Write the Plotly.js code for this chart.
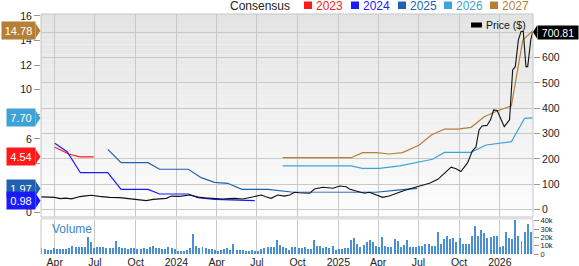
<!DOCTYPE html>
<html><head><meta charset="utf-8">
<script src="https://cdn.plot.ly/plotly-3.0.1.min.js"></script>
<style>html,body{margin:0;padding:0;background:#fff;}#chart{width:579px;height:266px;}</style>
</head><body><div id="chart"></div>
<script>
// ---------- data ----------
const eps2023Dates = ['2023-04-01','2023-05-04','2023-05-28','2023-06-28'];
const eps2023 = [5.32,4.75,4.54,4.54];
const eps2024Dates = ['2023-04-01','2023-04-29','2023-05-29','2023-07-30','2023-08-29','2023-10-29','2023-11-24','2024-01-28','2024-02-19','2024-03-27','2024-06-26'];
const eps2024 = [5.64,4.96,3.25,3.25,1.90,1.90,1.52,1.52,1.22,1.09,0.98];
const eps2025Dates = ['2023-07-30','2023-08-29','2023-10-29','2023-11-24','2024-01-28','2024-02-26','2024-03-27','2024-04-26','2024-05-28','2024-07-26','2024-09-17','2025-03-27','2025-05-20','2025-06-28'];
const eps2025 = [5.15,4.07,4.07,3.53,3.53,2.85,2.47,2.39,1.90,1.90,1.68,1.66,1.85,1.97];
const eps2026Dates = ['2024-08-28','2025-01-30','2025-02-24','2025-04-04','2025-05-20','2025-07-03','2025-08-02','2025-08-29','2025-10-28','2025-12-01','2025-12-27','2026-01-27','2026-02-26','2026-03-16'];
const eps2026 = [3.80,3.80,3.61,3.61,3.80,4.15,4.34,4.90,4.91,5.50,5.64,5.77,7.67,7.70];
const eps2027Dates = ['2024-08-28','2025-01-30','2025-02-25','2025-03-28','2025-04-26','2025-05-26','2025-07-03','2025-07-30','2025-08-29','2025-09-28','2025-10-28','2025-11-27','2025-12-27','2026-01-27','2026-02-22','2026-03-16'];
const eps2027 = [4.47,4.47,4.88,4.88,4.77,4.88,5.50,6.32,6.80,6.80,6.94,7.80,8.29,8.67,14.04,14.78];

const priceDates = ['2023-03-01','2023-03-21','2023-04-01','2023-04-13','2023-04-26','2023-05-09','2023-05-28','2023-06-10','2023-06-23','2023-07-11','2023-08-03','2023-08-26','2023-09-08','2023-09-25','2023-10-10','2023-10-25','2023-11-09','2023-11-24','2023-12-09','2023-12-21','2024-01-08','2024-01-31','2024-02-19','2024-03-05','2024-03-20','2024-04-01','2024-04-15','2024-04-30','2024-05-11','2024-05-30','2024-06-18','2024-07-11','2024-07-21','2024-08-02','2024-08-17','2024-09-01','2024-09-13','2024-09-24','2024-10-05','2024-10-28','2024-11-08','2024-11-27','2024-12-20','2025-01-04','2025-01-19','2025-01-26','2025-02-10','2025-03-01','2025-03-12','2025-03-31','2025-04-11','2025-04-26','2025-05-11','2025-05-30','2025-06-18','2025-07-03','2025-07-26','2025-08-14','2025-09-02','2025-09-13','2025-09-24','2025-10-05','2025-10-20','2025-10-31','2025-11-08','2025-11-15','2025-11-22','2025-12-03','2025-12-11','2025-12-18','2025-12-26','2026-01-11','2026-01-23','2026-01-30','2026-02-05','2026-02-12','2026-02-18','2026-02-23','2026-03-01','2026-03-05','2026-03-12','2026-03-16'];
const price = [50,49,48,43,45,42,51,54,56,52,48,47,45,42,38,35,40,42,44,53,52,57,49,46,44,45,41.5,43,44,41.5,49,57,50,44,57,53,57,68,66,64,81,88,84,93,90,81,73,64,68,57,48,53,64,75,85,93,104,119,150,167,161,150,184,232,246,314,330,332,354,393,391,327,354,551,564,670,703,703,564,564,670,700.81];

const volumeStart = '2023-03-02';   // first weekly bar
const volumeK = [6.8,6,5,4.8,6.8,5.6,5.6,6,6.4,6.8, 9.6,8,8.8,8,8.8,20,14.8,6.8,8,8.8, 8,7.2,7.2,6.8,16,8,6.8,7.2,5.6,6.8, 7.2,6.4,6.4,6.8,6.4,8.8,9.6,7,7.2,6.4, 6,8,7.2,6.4,4,4,4,4.8,6.8,23.6, 9.6,6.8,
 8,7.2,5.6,6,4.8,4,5.2,5.6,7.6,4.4, 11.6,5.2,4.4,4.4,3.6,4,4.4,3.6,4,5.6, 6.8,8,8.4,8.4,16.4,10.8,8.8,6.8,
 4.8,8,8.8,6.8,6.8,8,6.4,6,16.8,10, 9.6,6.8,8,7.2,9.6,4.8,5.6,6.4,7.6,7.2, 16.8,18.8,12,8,10.8,14,16.8,14.8,9.2,8.4, 20.8,9.2,8.8,8.8,18,15.6,8,10.4,17.2,8.4, 8.4,8,9.6,9.6,11.6,11.6,9.6,9.2,26.8,12.4, 17.6,22,18,18.8,14.4,18.8,12.4,12,12.4,21.6, 33.6,22,29.2,25.2,19.6,20.4,22,21.2,8.4,9.6, 26,19.6,17.6,40.8,22,16,26,36.5,27];

const xTickVals = ['2023-04-01','2023-07-01','2023-10-01','2024-01-01','2024-04-01','2024-07-01','2024-10-01','2025-01-01','2025-04-01','2025-07-01','2025-10-01','2026-01-01'];
const xTickText = ['Apr','Jul','Oct','2024','Apr','Jul','Oct','2025','Apr','Jul','Oct','2026'];
const epsTickVals = [0,2,4,6,8,10,12,14,16];
const epsTickText = ['0','','','6','','10','12','14','16'];   // 2,4,8 hidden under value tags
const priceTickVals = [0,100,200,300,400,500,600,700];
const priceTickText = ['0','100','200','300','400','500','600',''];
const volTickVals = [0,10000,20000,30000,40000];
const volTickText = ['0','10k','20k','30k','40k'];

const seriesNames = ['2023','2024','2025','2026','2027'];
const seriesColors = ['#ff1a1a','#1a1aff','#2162b0','#3ea2d6','#b57f36'];

// ---------- geometry helpers (layout only) ----------
const W=579,H=266,L=41,R=46,T=14,B=12;
const pw=W-L-R, ph=H-T-B;
const px = x => (x-L)/pw;
const py = y => (H-B-y)/ph;
const mainBottom = 217, volTop = 219.5;
const epsRange = [-0.35, 16.15];
const priceRange = [-29.6, 771.9];
const volRange = [0, 41450];
const epsPerPx = (epsRange[1]-epsRange[0])/(mainBottom-T);
const pricePerPx = (priceRange[1]-priceRange[0])/(mainBottom-T);

const volDates = volumeK.map((v,i)=>{const d=new Date(volumeStart+'T00:00:00Z'); d.setUTCDate(d.getUTCDate()+7*i); return d.toISOString().slice(0,10);});

const epsSets = [[eps2023Dates,eps2023],[eps2024Dates,eps2024],[eps2025Dates,eps2025],[eps2026Dates,eps2026],[eps2027Dates,eps2027]];

const traces = [];
traces.push({type:'bar', x:volDates, y:volumeK.map(v=>v*1000), xaxis:'x', yaxis:'y3', marker:{color:'#4a8fd3', line:{width:0}}, width:4.5*86400000, hoverinfo:'skip'});
epsSets.forEach((s,i)=>traces.push({type:'scatter', mode:'lines', x:s[0], y:s[1], xaxis:'x', yaxis:'y', line:{color:seriesColors[i], width:1.2}, hoverinfo:'skip'}));
traces.push({type:'scatter', mode:'lines', x:priceDates, y:price, xaxis:'x', yaxis:'y2', line:{color:'#111', width:1.1}, hoverinfo:'skip'});

const shapes = [];
// gradient background of main panel
const N=40;
for(let k=0;k<N;k++){
  const y0 = T + (mainBottom-T)*k/N, y1 = T + (mainBottom-T)*(k+1)/N;
  const c = Math.round(227 + (253-227)*(k+0.5)/N);
  shapes.push({type:'rect', xref:'paper', yref:'paper', x0:0, x1:1, y0:py(y1), y1:py(y0), fillcolor:`rgb(${c},${c},${c})`, line:{width:0}, layer:'below'});
}
// frame
shapes.push({type:'rect', xref:'paper', yref:'paper', x0:0, x1:1, y0:py(mainBottom), y1:1, line:{color:'#c6c6c6', width:1}, fillcolor:'rgba(0,0,0,0)'});
shapes.push({type:'rect', xref:'paper', yref:'paper', x0:0, x1:1, y0:py(volTop), y1:py(mainBottom), line:{width:0}, fillcolor:'#dedede'});
shapes.push({type:'line', xref:'paper', yref:'paper', x0:0, x1:0, y0:0, y1:py(volTop), line:{color:'#c6c6c6', width:1}});
shapes.push({type:'line', xref:'paper', yref:'paper', x0:1, x1:1, y0:0, y1:py(volTop), line:{color:'#c6c6c6', width:1}});

// legend squares (top)
const legSqX = [304,351,398,444,490];
seriesNames.forEach((n,i)=>{
  shapes.push({type:'rect', xref:'paper', yref:'paper', x0:px(legSqX[i]), x1:px(legSqX[i]+8), y0:py(9), y1:py(1.5), fillcolor:seriesColors[i], line:{width:0}});
});
// price legend symbol
shapes.push({type:'rect', xref:'paper', yref:'paper', x0:px(471), x1:px(482), y0:py(27.5), y1:py(22.5), fillcolor:'#000', line:{width:0}});

const annotations = [];
annotations.push({xref:'paper', yref:'paper', x:px(291), y:py(5.5), xanchor:'right', yanchor:'middle', text:'Consensus', showarrow:false, font:{size:12, color:'#222'}, height:12, borderpad:0});
seriesNames.forEach((n,i)=>{
  annotations.push({xref:'paper', yref:'paper', x:px(legSqX[i]+10.5), y:py(5.5), xanchor:'left', yanchor:'middle', text:n, showarrow:false, font:{size:12, color:seriesColors[i]}, height:12, borderpad:0});
});
annotations.push({xref:'paper', yref:'paper', x:px(484), y:py(25), xanchor:'left', yanchor:'middle', text:'Price ($)', showarrow:false, font:{size:10.5, color:'#111'}});
annotations.push({xref:'paper', yref:'paper', x:px(50), y:py(228.5), xanchor:'left', yanchor:'middle', text:'Volume', showarrow:false, font:{size:12, color:'#3b84c6'}});

// left value tags (last estimate of each year)
const tagH = 15;
[4,3,0,2,1].forEach(i=>{
  const vals = epsSets[i][1];
  const v = vals[vals.length-1];
  const label = v.toFixed(2);
  const h = tagH*epsPerPx/2;
  shapes.push({type:'path', xref:'paper', yref:'y', path:`M ${px(35.5)},${v+h} L ${px(40.5)},${v} L ${px(35.5)},${v-h} Z`, fillcolor:seriesColors[i], line:{width:0}});
  annotations.push({xref:'paper', yref:'y', x:px(36), y:v, xanchor:'right', yanchor:'middle', text:label, showarrow:false, bgcolor:seriesColors[i], font:{size:11, color:'#fff'}, borderpad:1, height:tagH, width: label.length>4?31:26});
});
// right price tag
{
  const v = price[price.length-1];
  const h = 13*pricePerPx/2;
  shapes.push({type:'path', xref:'paper', yref:'y2', path:`M ${px(537)},${v+h} L ${px(533)},${v} L ${px(537)},${v-h} Z`, fillcolor:'#000', line:{width:0}});
  annotations.push({xref:'paper', yref:'y2', x:px(536.5), y:v, xanchor:'left', yanchor:'middle', text:v.toFixed(2), showarrow:false, bgcolor:'#000', font:{size:10.5, color:'#fff'}, borderpad:0, height:13, width:40});
}

const gridC = '#c9c9c9';
const layout = {
  width:W, height:H, margin:{l:L, r:R, t:T, b:B, pad:0},
  paper_bgcolor:'#fff', plot_bgcolor:'rgba(0,0,0,0)',
  font:{family:'"Liberation Sans", Arial, sans-serif', size:10, color:'#222'},
  showlegend:false, bargap:0,
  xaxis:{type:'date', domain:[0,1], anchor:'y3', range:['2023-03-01','2026-03-17'], tickmode:'array', tickvals:xTickVals, ticktext:xTickText, showgrid:true, gridcolor:gridC, gridwidth:1, ticks:'', zeroline:false, showline:false, tickfont:{size:10.5, color:'#222'}},
  yaxis:{domain:[py(mainBottom),1], anchor:'x', range:epsRange, tickmode:'array', tickvals:epsTickVals, ticktext:epsTickText, showgrid:false, zeroline:false, ticks:'outside', ticklen:6, tickcolor:'#999', showline:false, tickfont:{size:10.5, color:'#222'}},
  yaxis2:{overlaying:'y', side:'right', anchor:'x', range:priceRange, tickmode:'array', tickvals:priceTickVals, ticktext:priceTickText, showgrid:true, gridcolor:gridC, gridwidth:1, zeroline:false, ticks:'outside', ticklen:6, tickcolor:'#999', tickfont:{size:10.5, color:'#222'}},
  yaxis3:{domain:[0,py(volTop)], anchor:'x', side:'right', range:volRange, tickmode:'array', tickvals:volTickVals, ticktext:volTickText, showgrid:false, zeroline:false, ticks:'outside', ticklen:5, tickcolor:'#999', tickfont:{size:7.5, color:'#222'}},
  shapes:shapes, annotations:annotations
};
Plotly.newPlot('chart', traces, layout, {staticPlot:true, displayModeBar:false});
</script></body></html>
